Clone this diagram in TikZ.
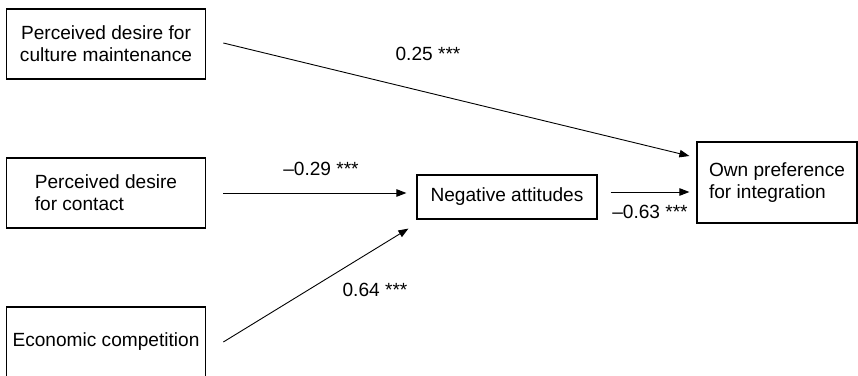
\documentclass[tikz,border=0pt]{standalone}
\usepackage{fontspec}
\setmainfont{Liberation Sans}
\usetikzlibrary{arrows.meta}
\begin{document}
\begin{tikzpicture}[x=1pt,y=-1pt,
  box/.style={draw, line width=1.2pt, inner sep=0pt, font=\fontsize{19.1}{22}\selectfont},
  lbl/.style={inner sep=0pt, font=\fontsize{19.1}{22}\selectfont},
  arr/.style={line width=0.9pt, -{Triangle[length=10pt,width=7.5pt]}}]
\useasboundingbox (0,0) rectangle (858,375);
\node[box, minimum width=199.5pt, minimum height=70pt, align=center] (cm) at (106,44) {Perceived desire for\\culture maintenance};
\node[box, minimum width=199.5pt, minimum height=70pt, align=left] (pc) at (106,193) {Perceived desire\\for contact};
\node[box, minimum width=199.5pt, minimum height=70pt] (ec) at (106,342) {Economic competition};
\node[box, minimum width=180pt, minimum height=44pt] (neg) at (507,197) {Negative attitudes};
\node[box, minimum width=160pt, minimum height=81pt, align=left] (own) at (777,182.5) {Own preference\\for integration};
\draw[arr] ([shift={(17pt,1pt)}]cm.east) -- ([shift={(-7pt,26.5pt)}]own.west);
\draw[arr] ([xshift=17pt]pc.east) -- ([shift={(-10pt,4pt)}]neg.west);
\draw[arr] ([xshift=17pt]ec.east) -- ([shift={(-8pt,-9pt)}]neg.south west);
\draw[arr] ([shift={(13pt,5pt)}]neg.east) -- ([shift={(-7pt,-9.5pt)}]own.west);
\node[lbl] (l1) at (428,54) {0.25 ***};
\node[lbl] (l2) at (321,169) {–0.29 ***};
\node[lbl] (l3) at (650,212) {–0.63 ***};
\node[lbl] (l4) at (375,290) {0.64 ***};
\end{tikzpicture}
\end{document}
